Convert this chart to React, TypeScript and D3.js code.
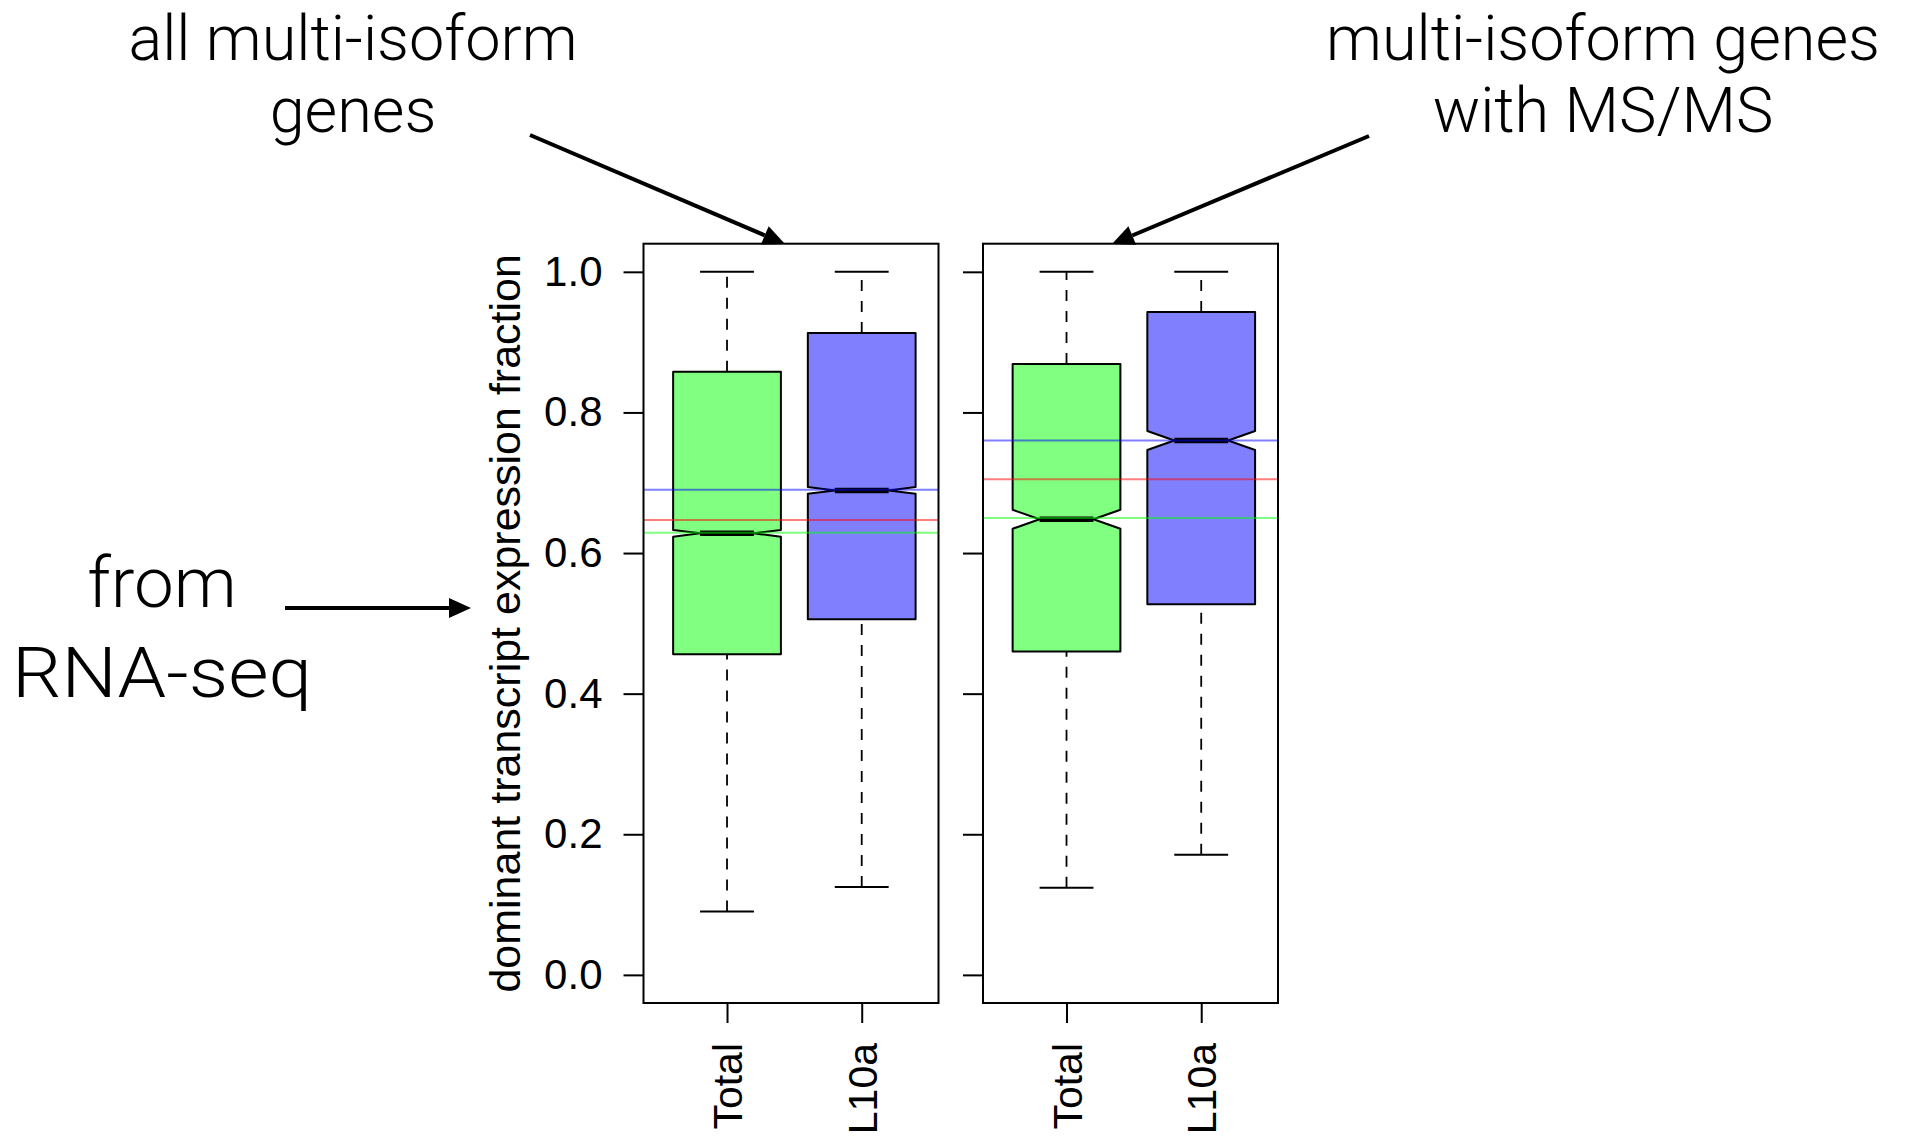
import * as d3 from "d3";
import { useEffect, useRef } from "react";

// box groups and panels
const groups = ["Total", "L10a"];
const groupColors = ["#80ff80", "#8080ff"];

// [lower whisker, Q1, median, Q3, upper whisker] per panel, per group
const allGenesStats = [
  [0.09, 0.456, 0.628, 0.858, 1.0],
  [0.125, 0.506, 0.689, 0.913, 1.0],
];
const msmsGenesStats = [
  [0.124, 0.46, 0.648, 0.869, 1.0],
  [0.171, 0.527, 0.76, 0.943, 1.0],
];
// notch half height per panel
const notchHalf = [0.0048, 0.0135];

// horizontal reference lines per panel: blue, red, green
const refColors = ["blue", "red", "#00ff00"];
const allGenesRefs = [0.69, 0.647, 0.629];
const msmsGenesRefs = [0.76, 0.705, 0.65];

const yTicks = [0, 0.2, 0.4, 0.6, 0.8, 1.0];

const App: React.FC = () => {
  const ref = useRef<SVGSVGElement | null>(null);

  useEffect(() => {
    const width = 1907;
    const height = 1138;
    const svg = d3.select(ref.current);
    svg.selectAll("*").remove();
    svg.attr("width", width).attr("height", height);

    const plotTop = 243.7;
    const plotBottom = 1003;
    const panelX = [
      [643.5, 938.5],
      [983, 1278],
    ];
    const stats = [allGenesStats, msmsGenesStats];
    const refs = [allGenesRefs, msmsGenesRefs];

    const y = d3.scaleLinear().domain([-0.04, 1.04]).range([plotBottom, plotTop]);

    panelX.forEach(([left, right], p) => {
      const x = d3.scaleLinear().domain([0.38, 2.57]).range([left, right]);
      const g = svg.append("g");
      const unit = x(1) - x(0);
      const wex = 0.4 * unit;

      stats[p].forEach((s, i) => {
        const cx = x(i + 1);
        const [lo, q1, med, q3, hi] = s;
        // whiskers
        [
          [lo, q1],
          [q3, hi],
        ].forEach(([a, b]) => {
          g.append("line")
            .attr("x1", cx)
            .attr("x2", cx)
            .attr("y1", y(a))
            .attr("y2", y(b))
            .attr("stroke", "#000")
            .attr("stroke-width", 1.8)
            .attr("stroke-dasharray", "11,10");
        });
        [lo, hi].forEach((v) => {
          g.append("line")
            .attr("x1", cx - wex / 2)
            .attr("x2", cx + wex / 2)
            .attr("y1", y(v))
            .attr("y2", y(v))
            .attr("stroke", "#000")
            .attr("stroke-width", 2);
        });
        // notched box
        const n = notchHalf[p];
        const pts: [number, number][] = [
          [cx - wex, y(q1)],
          [cx - wex, y(med - n)],
          [cx - wex / 2, y(med)],
          [cx - wex, y(med + n)],
          [cx - wex, y(q3)],
          [cx + wex, y(q3)],
          [cx + wex, y(med + n)],
          [cx + wex / 2, y(med)],
          [cx + wex, y(med - n)],
          [cx + wex, y(q1)],
        ];
        g.append("path")
          .attr("d", d3.line()(pts) + "Z")
          .attr("fill", groupColors[i])
          .attr("stroke", "#000")
          .attr("stroke-width", 2)
          .attr("stroke-linejoin", "round");
        g.append("line")
          .attr("x1", cx - wex / 2)
          .attr("x2", cx + wex / 2)
          .attr("y1", y(med))
          .attr("y2", y(med))
          .attr("stroke", "#000")
          .attr("stroke-width", 5.5);
      });

      // reference lines
      refs[p].forEach((v, k) => {
        g.append("line")
          .attr("x1", left)
          .attr("x2", right)
          .attr("y1", y(v))
          .attr("y2", y(v))
          .attr("stroke", refColors[k])
          .attr("stroke-opacity", 0.5)
          .attr("stroke-width", 2);
      });

      // frame
      g.append("rect")
        .attr("x", left)
        .attr("y", plotTop)
        .attr("width", right - left)
        .attr("height", plotBottom - plotTop)
        .attr("fill", "none")
        .attr("stroke", "#000")
        .attr("stroke-width", 2);

      // y axis
      const yAxis = g
        .append("g")
        .attr("transform", `translate(${left},0)`)
        .call(
          d3
            .axisLeft(y)
            .tickValues(yTicks)
            .tickSize(20)
            .tickPadding(21)
            .tickFormat((d) => (p === 0 ? d3.format(".1f")(d as number) : ""))
        );
      yAxis.select(".domain").remove();
      yAxis.selectAll("line").attr("stroke-width", 2);
      yAxis
        .selectAll("text")
        .attr("font-size", 42)
        .attr("font-family", "'Liberation Sans', Arial, sans-serif")
        .attr("fill", "#000");

      // x axis
      const xAxis = g
        .append("g")
        .attr("transform", `translate(0,${plotBottom})`)
        .call(
          d3
            .axisBottom(x)
            .tickValues([1, 2])
            .tickSize(20)
            .tickFormat((d) => groups[(d as number) - 1])
        );
      xAxis.select(".domain").remove();
      xAxis.selectAll("line").attr("stroke-width", 2);
      xAxis
        .selectAll("text")
        .attr("transform", "rotate(-90)")
        .attr("x", -40)
        .attr("y", 0)
        .attr("dy", "0.36em")
        .attr("text-anchor", "end")
        .attr("font-size", 41)
        .attr("font-family", "'Liberation Sans', Arial, sans-serif")
        .attr("fill", "#000");
    });

    // y axis title
    svg
      .append("text")
      .attr("transform", `translate(520,${(plotTop + plotBottom) / 2}) rotate(-90)`)
      .attr("text-anchor", "middle")
      .attr("font-size", 43)
      .attr("font-family", "'Liberation Sans', Arial, sans-serif")
      .text("dominant transcript expression fraction");

    // annotations
    const annoFont = "Roboto, 'Open Sans', sans-serif";
    const addText = (t: string, cx: number, y0: number, size: number, len?: number) => {
      const el = svg
        .append("text")
        .attr("x", cx)
        .attr("y", y0)
        .attr("text-anchor", "middle")
        .attr("font-size", size)
        .attr("font-weight", 300)
        .attr("font-family", annoFont)
        .text(t);
      if (len) el.attr("textLength", len).attr("lengthAdjust", "spacingAndGlyphs");
    };
    addText("all multi-isoform", 353, 60, 63);
    addText("genes", 353, 132, 63);
    addText("multi-isoform genes", 1603, 60, 63);
    addText("with MS/MS", 1603, 132, 63);
    addText("from", 162, 607, 71);
    addText("RNA-seq", 162, 697, 71, 300);

    // arrows
    const arrow = (x1: number, y1: number, x2: number, y2: number) => {
      const ang = Math.atan2(y2 - y1, x2 - x1);
      const len = 22;
      const half = 10;
      const bx = x2 - len * Math.cos(ang);
      const by = y2 - len * Math.sin(ang);
      svg
        .append("line")
        .attr("x1", x1)
        .attr("y1", y1)
        .attr("x2", bx)
        .attr("y2", by)
        .attr("stroke", "#000")
        .attr("stroke-width", 4);
      const px = -Math.sin(ang) * half;
      const py = Math.cos(ang) * half;
      svg
        .append("path")
        .attr(
          "d",
          `M${x2},${y2}L${bx + px},${by + py}L${bx - px},${by - py}Z`
        )
        .attr("fill", "#000");
    };
    arrow(530, 135, 785, 244);
    arrow(1369, 136, 1112, 244);
    arrow(285, 608, 471, 608);
  }, []);

  return (
    <svg
      ref={ref}
      style={{ position: "absolute", left: 0, top: 0, background: "#fff" }}
    />
  );
};

export default App;
